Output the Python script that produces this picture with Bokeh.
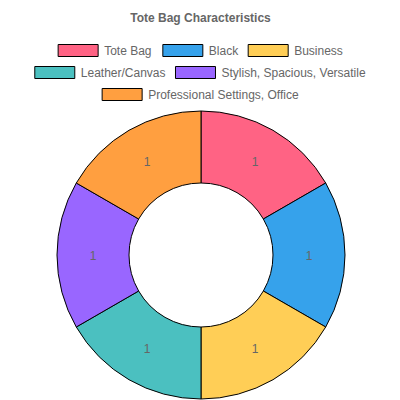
import math
from bokeh.plotting import figure
from bokeh.models import Range1d, ColumnDataSource
from bokeh.core.properties import value
from bokeh.embed import file_html
from bokeh.resources import INLINE

# ---- data ----
title_text = "Tote Bag Characteristics"
categories = ["Tote Bag", "Black", "Business", "Leather/Canvas",
              "Stylish, Spacious, Versatile", "Professional Settings, Office"]
values = [1, 1, 1, 1, 1, 1]
colors = ["#FF6384", "#36A2EB", "#FFCE56", "#4BC0C0", "#9966FF", "#FF9F40"]

# ---- layout constants (picture pixel coordinates) ----
W = H = 400
FONT = "Liberation Sans"
TXT = "#666666"
CX, CY = 200.5, 254.5
R_OUT, R_IN = 144.0, 72.0

def Y(yw):  # picture y (down) -> data y (up)
    return H - yw

p = figure(width=W, height=H, output_backend="svg", toolbar_location=None,
           x_range=Range1d(0, W), y_range=Range1d(0, H), min_border=0)
p.axis.visible = False
p.grid.visible = False
p.outline_line_color = None
p.background_fill_color = "white"
p.border_fill_color = "white"

# ---- donut ----
total = sum(values)
starts, ends, lx, ly, labels = [], [], [], [], []
acc = 0.0
for v in values:
    a0 = math.pi / 2 - 2 * math.pi * acc / total
    a1 = math.pi / 2 - 2 * math.pi * (acc + v) / total
    starts.append(a0)
    ends.append(a1)
    mid = (a0 + a1) / 2
    rm = (R_IN + R_OUT) / 2
    lx.append(CX + rm * math.cos(mid))
    ly.append(Y(CY) + rm * math.sin(mid))
    labels.append(str(v))
    acc += v

src = ColumnDataSource(dict(start=starts, end=ends, color=colors))
p.annular_wedge(x=CX, y=Y(CY), inner_radius=R_IN, outer_radius=R_OUT,
                start_angle="start", end_angle="end", direction="clock",
                fill_color="color", line_color="black", line_width=1, source=src)
p.text(x=lx, y=ly, text=labels, text_align="center", text_baseline="middle",
       text_font=value(FONT), text_font_size="12px", text_color=TXT)

# ---- title ----
p.text(x=[200], y=[Y(17)], text=[title_text], text_align="center",
       text_baseline="middle", text_font=value(FONT), text_font_size="12px",
       text_font_style="bold", text_color=TXT)

# ---- legend (Chart.js-like wrapping) ----
AW = {' ': 278, ',': 278, '/': 278, '.': 278, 'T': 611, 'L': 556}
AW.update({'B': 667, 'C': 722, 'S': 667, 'P': 667, 'O': 778, 'V': 667,
           'a': 556, 'b': 556, 'c': 500, 'd': 556, 'e': 556, 'f': 278, 'g': 556,
           'h': 556, 'i': 222, 'k': 500, 'l': 222, 'n': 556, 'o': 556, 'p': 556,
           'r': 333, 's': 500, 't': 278, 'u': 556, 'v': 500, 'y': 500})

def tw(s):
    return sum(AW.get(c, 556) for c in s) * 12 / 1000.0

BOXW, BOXH, PAD = 40, 12, 10
rows = [[]]
linew = 0
for i, c in enumerate(categories):
    iw = BOXW + 6 + tw(c)
    if rows[-1] and linew + PAD + iw > W - 2 * PAD:
        rows.append([])
        linew = 0
    if rows[-1]:
        linew += PAD
    rows[-1].append((i, iw))
    linew += iw

bx, by, tx, ty, tlab, bcol = [], [], [], [], [], []
for r, row in enumerate(rows):
    rw = sum(w for _, w in row) + PAD * (len(row) - 1)
    x = (W - rw) / 2
    yc = 50 + 22 * r
    for i, iw in row:
        bx.append(x + BOXW / 2)
        by.append(Y(yc))
        bcol.append(colors[i])
        tx.append(x + BOXW + 6)
        ty.append(Y(yc))
        tlab.append(categories[i])
        x += iw + PAD

p.rect(x=bx, y=by, width=BOXW, height=BOXH, fill_color=bcol,
       line_color="black", line_width=1)
p.text(x=tx, y=ty, text=tlab, text_align="left", text_baseline="middle",
       text_font=value(FONT), text_font_size="12px", text_color=TXT)

open("out.html", "w").write(file_html(p, INLINE))
